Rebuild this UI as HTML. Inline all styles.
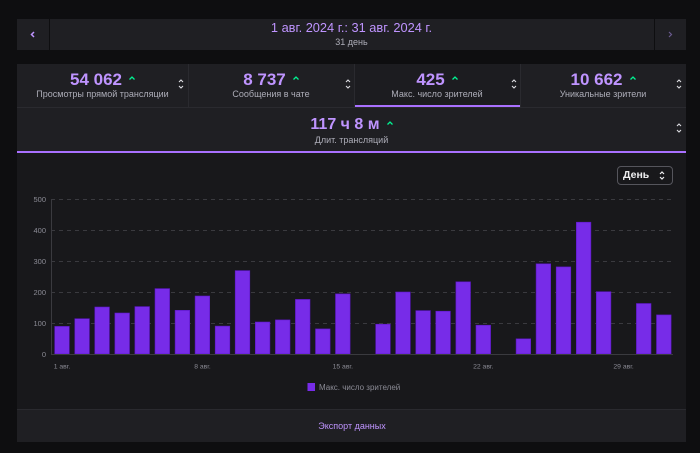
<!DOCTYPE html>
<html><head><meta charset="utf-8"><style>
*{margin:0;padding:0;box-sizing:border-box}
body{width:700px;height:453px;background:#0e0e10;font-family:"Liberation Sans",sans-serif;position:relative;overflow:hidden}
.abs{position:absolute}
.p{color:#bf94ff}
.g{color:#adadb8}
.cell{position:absolute;display:flex;flex-direction:column;align-items:center}
.row{display:flex;align-items:center;height:17px;line-height:17px}
.num{font-weight:bold;font-size:17px;color:#bf94ff;white-space:nowrap}
.row svg{margin-left:7px;margin-top:-4px}
.lbl{font-size:9px;line-height:11px;color:#adadb8;white-space:nowrap;margin-top:1px}
</style></head><body>
<!-- date bar -->
<div class="abs" style="left:17px;top:19px;width:669px;height:31px;background:#1f1f23"></div>
<div class="abs" style="left:49px;top:19px;width:1px;height:31px;background:#0e0e10"></div>
<div class="abs" style="left:654px;top:19px;width:1px;height:31px;background:#0e0e10"></div>
<svg class="abs" style="left:30px;top:31px" width="6" height="7"><polyline points="4,1 1.5,3.5 4,6" fill="none" stroke="#bf94ff" stroke-width="1.5"/></svg>
<svg class="abs" style="left:667px;top:31px" width="6" height="7"><polyline points="2,1 4.5,3.5 2,6" fill="none" stroke="#6a5a8f" stroke-width="1.2"/></svg>
<div class="abs p" style="left:200px;width:303px;top:20px;text-align:center;font-size:12.8px;line-height:15px">1 авг. 2024 г.: 31 авг. 2024 г.</div>
<div class="abs g" style="left:300px;width:103px;top:37px;text-align:center;font-size:9px;line-height:11px">31 день</div>

<!-- stats row -->
<div class="abs" style="left:17px;top:64px;width:669px;height:43px;background:#1f1f23"></div>
<div class="abs" style="left:354px;top:64px;width:166px;height:43px;background:#1c1c20"></div>
<div class="abs" style="left:188px;top:64px;width:1px;height:43px;background:#2a2a2f"></div>
<div class="abs" style="left:354px;top:64px;width:1px;height:43px;background:#2a2a2f"></div>
<div class="abs" style="left:520px;top:64px;width:1px;height:43px;background:#2a2a2f"></div>
<div class="abs" style="left:355px;top:105px;width:165px;height:2px;background:#a970ff"></div>
<div class="abs" style="left:17px;top:107px;width:669px;height:1px;background:#2a2a2f"></div>

<div class="cell" style="left:17px;width:171px;top:71px">
 <div class="row"><span class="num">54 062</span><svg width="6" height="4"><polyline points="0.5,3.5 3,1 5.5,3.5" fill="none" stroke="#00f593" stroke-width="1.3"/></svg></div>
 <div class="lbl">Просмотры прямой трансляции</div>
</div>
<div class="cell" style="left:188px;width:166px;top:71px">
 <div class="row"><span class="num">8 737</span><svg width="6" height="4"><polyline points="0.5,3.5 3,1 5.5,3.5" fill="none" stroke="#00f593" stroke-width="1.3"/></svg></div>
 <div class="lbl">Сообщения в чате</div>
</div>
<div class="cell" style="left:354px;width:166px;top:71px">
 <div class="row"><span class="num">425</span><svg width="6" height="4"><polyline points="0.5,3.5 3,1 5.5,3.5" fill="none" stroke="#00f593" stroke-width="1.3"/></svg></div>
 <div class="lbl">Макс. число зрителей</div>
</div>
<div class="cell" style="left:520px;width:166px;top:71px">
 <div class="row"><span class="num">10 662</span><svg width="6" height="4"><polyline points="0.5,3.5 3,1 5.5,3.5" fill="none" stroke="#00f593" stroke-width="1.3"/></svg></div>
 <div class="lbl">Уникальные зрители</div>
</div>

<!-- duration row -->
<div class="abs" style="left:17px;top:108px;width:669px;height:43px;background:#1f1f23"></div>
<div class="abs" style="left:17px;top:151px;width:669px;height:2px;background:#a970ff"></div>
<div class="cell" style="left:17px;width:669px;top:116px">
 <div class="row"><span class="num" style="font-size:16px">117 ч 8 м</span><svg width="6" height="4"><polyline points="0.5,3.5 3,1 5.5,3.5" fill="none" stroke="#00f593" stroke-width="1.3"/></svg></div>
 <div class="lbl" style="margin-top:1.5px">Длит. трансляций</div>
</div>

<svg class="abs" style="left:0;top:0" width="700" height="160">
 <g fill="none" stroke="#dedee3" stroke-width="1.1">
  <polyline points="179,82 181,80 183,82"/><polyline points="179,86 181,88 183,86"/>
  <polyline points="346,82 348,80 350,82"/><polyline points="346,86 348,88 350,86"/>
  <polyline points="512,82 514,80 516,82"/><polyline points="512,86 514,88 516,86"/>
  <polyline points="677,82 679,80 681,82"/><polyline points="677,86 679,88 681,86"/>
  <polyline points="677,126 679,124 681,126"/><polyline points="677,130 679,132 681,130"/>
 </g>
</svg>

<!-- chart panel -->
<div class="abs" style="left:17px;top:153px;width:669px;height:256px;background:#18181b"></div>
<div class="abs" style="left:617px;top:166px;width:56px;height:19px;border:1px solid #55555c;border-radius:4px;background:#18181b"></div>
<div class="abs" style="left:623px;top:169px;font-size:10.5px;font-weight:bold;color:#efeff1">День</div>
<svg class="abs" style="left:658px;top:169px" width="8" height="13"><g fill="none" stroke="#efeff1" stroke-width="1.2"><polyline points="2,5 4,3 6,5"/><polyline points="2,8 4,10 6,8"/></g></svg>

<svg class="abs" style="left:0;top:0" width="700" height="453" font-family="Liberation Sans, sans-serif">
 <g stroke="#3a3a3f" stroke-width="1" stroke-dasharray="4,4">
  <line x1="51" y1="199.5" x2="673" y2="199.5"/>
  <line x1="51" y1="230.5" x2="673" y2="230.5"/>
  <line x1="51" y1="261.5" x2="673" y2="261.5"/>
  <line x1="51" y1="292.5" x2="673" y2="292.5"/>
  <line x1="51" y1="323.5" x2="673" y2="323.5"/>
 </g>
 <line x1="51.5" y1="199" x2="51.5" y2="355" stroke="#3a3a3f"/>
 <g font-size="7.5" fill="#8b8b95" text-anchor="end">
  <text x="46" y="202">500</text>
  <text x="46" y="233">400</text>
  <text x="46" y="264">300</text>
  <text x="46" y="295">200</text>
  <text x="46" y="326">100</text>
  <text x="46" y="357">0</text>
 </g>
 <g fill="#772ce8" stroke="#5c16c5" stroke-width="0.6">
  <rect x="54.7" y="326.4" width="14.6" height="27.6"/>
  <rect x="74.8" y="318.7" width="14.6" height="35.3"/>
  <rect x="94.8" y="307" width="14.6" height="47"/>
  <rect x="114.9" y="313" width="14.6" height="41"/>
  <rect x="134.9" y="306.6" width="14.6" height="47.4"/>
  <rect x="155" y="288.6" width="14.6" height="65.4"/>
  <rect x="175.1" y="310.3" width="14.6" height="43.7"/>
  <rect x="195.1" y="296" width="14.6" height="58"/>
  <rect x="215.2" y="326.1" width="14.6" height="27.9"/>
  <rect x="235.2" y="270.6" width="14.6" height="83.4"/>
  <rect x="255.3" y="322" width="14.6" height="32"/>
  <rect x="275.4" y="319.9" width="14.6" height="34.1"/>
  <rect x="295.4" y="299.4" width="14.6" height="54.6"/>
  <rect x="315.5" y="328.9" width="14.6" height="25.1"/>
  <rect x="335.5" y="293.9" width="14.6" height="60.1"/>
  <rect x="375.7" y="324.2" width="14.6" height="29.8"/>
  <rect x="395.7" y="292" width="14.6" height="62"/>
  <rect x="415.8" y="310.6" width="14.6" height="43.4"/>
  <rect x="435.8" y="311.2" width="14.6" height="42.8"/>
  <rect x="455.9" y="281.8" width="14.6" height="72.2"/>
  <rect x="476" y="325.2" width="14.6" height="28.8"/>
  <rect x="516.1" y="338.8" width="14.6" height="15.2"/>
  <rect x="536.1" y="263.8" width="14.6" height="90.2"/>
  <rect x="556.2" y="266.9" width="14.6" height="87.1"/>
  <rect x="576.3" y="222.2" width="14.6" height="131.8"/>
  <rect x="596.3" y="291.7" width="14.6" height="62.3"/>
  <rect x="636.4" y="303.5" width="14.6" height="50.5"/>
  <rect x="656.5" y="314.9" width="14.6" height="39.1"/>
 </g>
 <line x1="51" y1="354.5" x2="673" y2="354.5" stroke="#3a3a3f"/>
 <g font-size="6.8" fill="#8b8b95" text-anchor="middle">
  <text x="62" y="368.5">1 авг.</text>
  <text x="202.5" y="368.5">8 авг.</text>
  <text x="342.8" y="368.5">15 авг.</text>
  <text x="483.3" y="368.5">22 авг.</text>
  <text x="623.6" y="368.5">29 авг.</text>
 </g>
 <rect x="307.5" y="383" width="7.5" height="8" fill="#772ce8"/>
 <text x="319" y="390" font-size="8" fill="#8b8b95">Макс. число зрителей</text>
</svg>

<!-- export row -->
<div class="abs" style="left:17px;top:409px;width:669px;height:33px;background:#1f1f23;border-top:1px solid #2a2a2f"></div>
<div class="abs p" style="left:252px;width:200px;top:421px;text-align:center;font-size:9px;line-height:11px">Экспорт данных</div>
</body></html>
